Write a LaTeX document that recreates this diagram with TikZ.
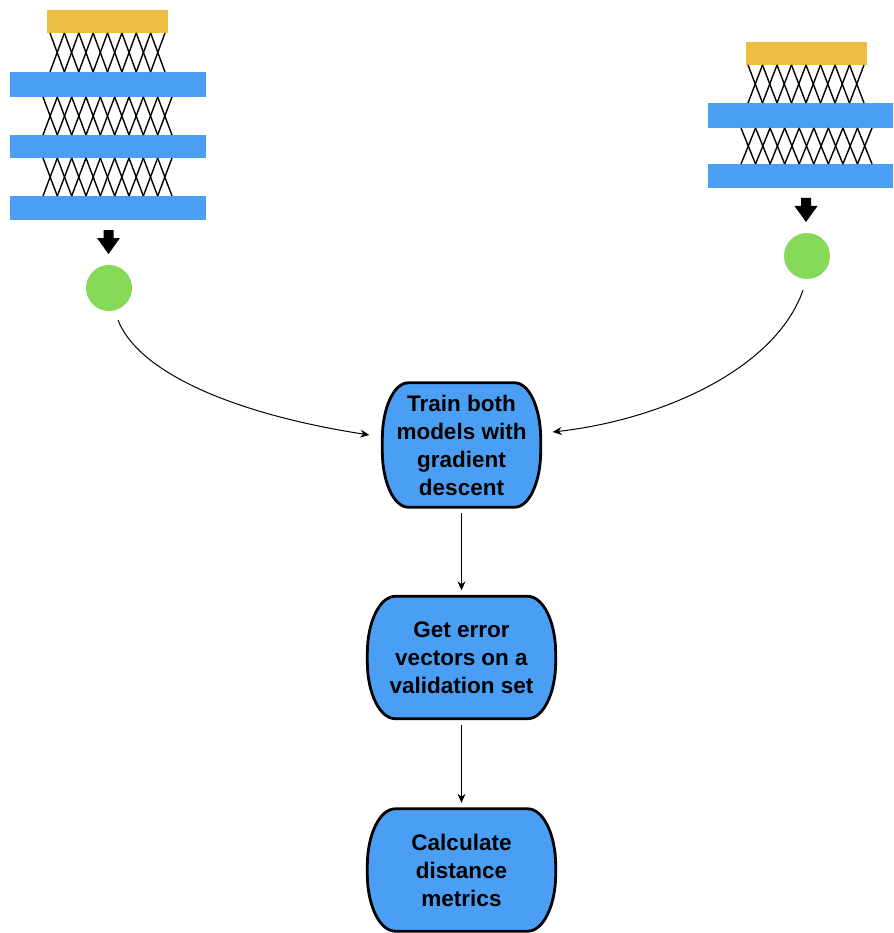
\documentclass[tikz,border=0pt]{standalone}
\usepackage{fontspec}
\setmainfont{Liberation Sans}
\usetikzlibrary{arrows.meta,calc,backgrounds}
\definecolor{barblue}{HTML}{4A9FF5}
\definecolor{barorange}{HTML}{EEBD44}
\definecolor{dotgreen}{HTML}{86D858}
\tikzset{
  layer/.style={fill=barblue, inner sep=0pt, outer sep=0pt, anchor=north west},
  outlayer/.style={fill=barorange, inner sep=0pt, outer sep=0pt, anchor=north west},
  link/.style={line width=1.4pt, black},
  dot/.style={circle, fill=dotgreen, minimum size=46pt, inner sep=0pt},
  stepbox/.style={inner sep=0pt, align=center, font=\fontsize{22.5}{28}\selectfont\bfseries},
  boxline/.style={draw=black, line width=2.8pt, fill=barblue},
  flow/.style={-{Stealth[length=9pt,width=8pt]}, line width=1pt}
}
% crosslinks: xa, xb, n, ytop, ybottom
\newcommand\crosslinks[5]{%
  \pgfmathsetmacro\crsp{(#2-#1)/(#3-1)}%
  \pgfmathtruncatemacro\crm{#3-2}%
  \foreach \i in {0,...,\crm}{%
    \draw[link] ({#1+\i*\crsp},#4) -- ({#1+(\i+1)*\crsp},#5);
    \draw[link] ({#1+(\i+1)*\crsp},#4) -- ({#1+\i*\crsp},#5);
  }%
}
% block arrow: centre x, top y
\newcommand\blockarrow[2]{%
  \fill[black] ({#1-5},#2) -- ({#1+5},#2) -- ({#1+5},{#2+8}) -- ({#1+11.5},{#2+8})
    -- (#1,{#2+24}) -- ({#1-11.5},{#2+8}) -- ({#1-5},{#2+8}) -- cycle;
}
% soft box outline: node name, rx, ry
\newcommand\softbox[3]{%
  \begin{scope}[on background layer]
  \path[boxline]
    ($(#1.north west)+(#2,0)$) -- ($(#1.north east)+(-#2,0)$)
    .. controls ($(#1.north east)+({-0.448*#2},0)$) and ($(#1.north east)+(0,{0.448*#3})$) .. ($(#1.north east)+(0,#3)$)
    -- ($(#1.south east)+(0,-#3)$)
    .. controls ($(#1.south east)+(0,{-0.448*#3})$) and ($(#1.south east)+({-0.448*#2},0)$) .. ($(#1.south east)+(-#2,0)$)
    -- ($(#1.south west)+(#2,0)$)
    .. controls ($(#1.south west)+({0.448*#2},0)$) and ($(#1.south west)+(0,{-0.448*#3})$) .. ($(#1.south west)+(0,-#3)$)
    -- ($(#1.north west)+(0,#3)$)
    .. controls ($(#1.north west)+(0,{0.448*#3})$) and ($(#1.north west)+({0.448*#2},0)$) .. ($(#1.north west)+(#2,0)$)
    -- cycle;
  \end{scope}
}
\begin{document}
\begin{tikzpicture}[x=1pt,y=-1pt]
\useasboundingbox (0,0) rectangle (893,933);

% ---------- left network ----------
\node[outlayer, minimum width=121pt, minimum height=23pt] (lout) at (47,10) {};
\node[layer, minimum width=196pt, minimum height=25pt] (lh1) at (10,72) {};
\node[layer, minimum width=196pt, minimum height=23pt] (lh2) at (10,135) {};
\node[layer, minimum width=196pt, minimum height=24pt] (lh3) at (10,196) {};
\crosslinks{50}{165}{9}{33}{72}
\crosslinks{43}{172}{10}{97}{135}
\crosslinks{43}{172}{10}{158}{196}
\blockarrow{108.5}{230}
\node[dot] (ldot) at (109,288) {};

% ---------- right network ----------
\node[outlayer, minimum width=121pt, minimum height=23pt] (rout) at (746,42) {};
\node[layer, minimum width=185pt, minimum height=25pt] (rh1) at (708,103) {};
\node[layer, minimum width=185pt, minimum height=24pt] (rh2) at (708,164) {};
\crosslinks{748}{864}{9}{65}{103}
\crosslinks{741}{872}{10}{128}{164}
\blockarrow{806}{198}
\node[dot] (rdot) at (807,256) {};

% ---------- flow boxes ----------
\node[stepbox, minimum width=158pt, minimum height=124pt] (train) at (461.5,445)
  {Train both\\models with\\gradient\\descent};
\softbox{train}{26}{56}
\node[stepbox, minimum width=188pt, minimum height=122pt] (errs) at (461.5,657.5)
  {Get error\\vectors on a\\validation set};
\softbox{errs}{28}{57}
\node[stepbox, minimum width=188pt, minimum height=122pt] (dist) at (461.5,870)
  {Calculate\\distance\\metrics};
\softbox{dist}{28}{57}

% ---------- connectors ----------
\coordinate (ls) at ($(ldot.south)+(9,9)$);
\coordinate (le) at ($(train.west)+(-13,-10)$);
\draw[flow] (ls) .. controls (140,375) and (240,415) .. (le);
\coordinate (rs) at ($(rdot.south)+(-4,11)$);
\coordinate (re) at ($(train.east)+(12,-13)$);
\draw[flow] (rs) .. controls (775,370) and (660,420) .. (re);
\draw[flow, shorten <=6pt, shorten >=6pt] (train.south) -- (errs.north);
\draw[flow, shorten <=6pt, shorten >=6pt] (errs.south) -- (dist.north);
\end{tikzpicture}
\end{document}
